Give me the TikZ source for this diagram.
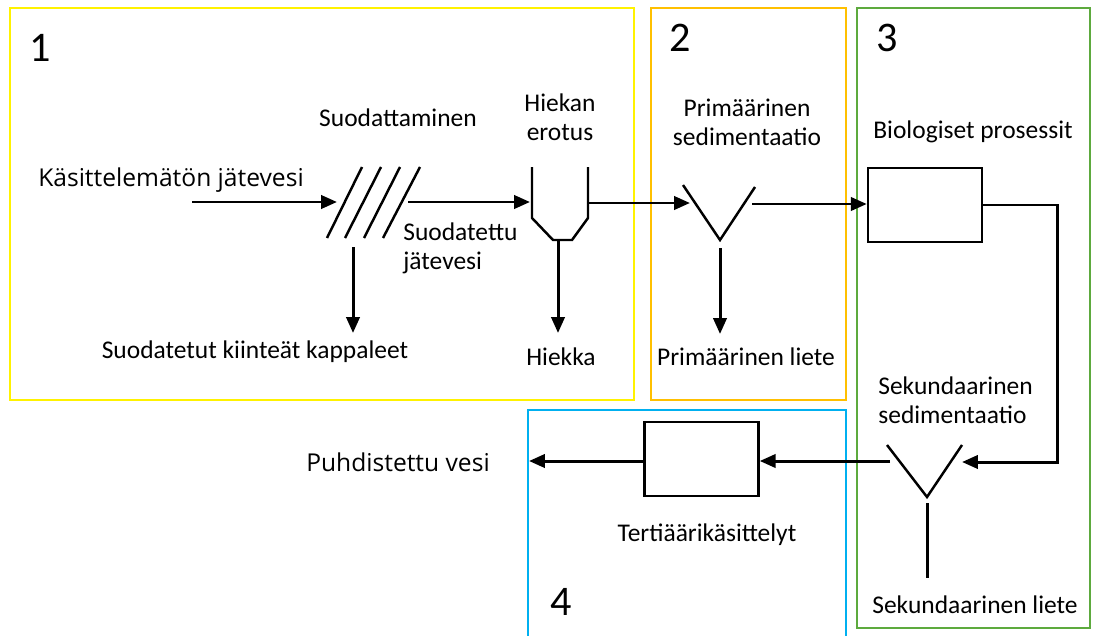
\documentclass[tikz,border=0pt]{standalone}
\usepackage{fontspec}
\setmainfont{Carlito}
\newfontfamily\osans{Open Sans}
\usetikzlibrary{arrows.meta}
\definecolor{cyel}{HTML}{FFF200}
\definecolor{cora}{HTML}{FFC000}
\definecolor{cgre}{HTML}{5DAA3E}
\definecolor{cblu}{HTML}{00B0F0}
\begin{document}
\begin{tikzpicture}[x=0.02cm,y=-0.02cm,
  zone/.style={line width=1.5pt},
  flow/.style={line width=1.7pt,-{Triangle[length=9pt,width=7.5pt]}},
  plain/.style={line width=1.7pt},
  shp/.style={line width=1.4pt},
  lbl/.style={font=\fontsize{14.5pt}{16.5pt}\selectfont,inner sep=0pt},
  big/.style={font=\osans\fontsize{14pt}{16pt}\selectfont,inner sep=0pt},
  num/.style={font=\fontsize{24pt}{26pt}\selectfont,inner sep=0pt},
  proc/.style={draw,shp,minimum width=114*0.02cm,minimum height=74*0.02cm,inner sep=0pt}]
\useasboundingbox (0,0) rectangle (1097,635);
\fill[white] (0,0) rectangle (1097,635);
% zones
\draw[zone,cyel] (10,8) rectangle (634,400);
\draw[zone,cora] (651,8) rectangle (846,400);
\draw[zone,cgre] (857,8) rectangle (1090,628);
\draw[zone,cblu] (528,640) -- (528,410) -- (846,410) -- (846,640);
\node[num] (n1) at (40,48) {1};
\node[num] (n2) at (680,38) {2};
\node[num] (n3) at (887,38) {3};
\node[num] (n4) at (561,602) {4};
% screen
\foreach \a/\b in {327/362,345/381,364/400,383/420}
  \draw[shp] (\a,238) -- (\b,167);
\coordinate (scrin) at (337,202);
\coordinate (scrout) at (408,202);
\coordinate (scrdown) at (353,247);
\coordinate (solids) at (353,333);
\coordinate (src) at (192,202);
% grit chamber
\draw[shp] (532,167) -- (532,218) -- (553,240) -- (572,240) -- (588,218) -- (588,167);
\coordinate (gritin) at (530,202);
\coordinate (gritout) at (588,203);
\coordinate (gritbot) at (558,240);
\coordinate (grit) at (558,333);
% primary V
\draw[shp] (683,185) -- (720,240) -- (755,187);
\coordinate (pvin) at (690,203);
\coordinate (pvout) at (752,204);
\coordinate (pvbot) at (720,248);
\coordinate (psl) at (720,334);
% bio box
\node[proc] (bio) at (925,205) {};
\coordinate (c1) at (1057,205);
\coordinate (c2) at (1057,462);
% secondary V
\draw[shp] (887,445) -- (927,497) -- (962,445);
\coordinate (svin) at (962,462);
\coordinate (svout) at (890,461);
\coordinate (svbot) at (927,503);
\coordinate (ssl) at (927,578);
% tertiary box
\node[proc] (ter) at (701.5,459) {};
\coordinate (out) at (529,461);
% connectors
\draw[flow] (src) -- (scrin);
\draw[flow] (scrout) -- (gritin);
\draw[flow] (scrdown) -- (solids);
\draw[flow] (gritbot) -- (grit);
\draw[flow] (gritout) -- (pvin);
\draw[flow] (pvbot) -- (psl);
\draw[flow] (pvout) -- (bio.west |- pvout);
\draw[flow] (bio.east |- c1) -- (c1) -- (c2) -- (svin);
\draw[plain] (svbot) -- (ssl);
\draw[flow] (svout) -- (ter.east |- svout);
\draw[flow] (ter.west |- out) -- (out);
% labels
\node[big] (t1) at (171,180) {Käsittelemätön jätevesi};
\node[big] (t2) at (398,462) {Puhdistettu vesi};
\node[lbl] (t3) at (398,118) {Suodattaminen};
\node[lbl,align=center] (t4) at (560,117) {Hiekan\\erotus};
\node[lbl,align=left,anchor=west] (t5) at (403,248) {Suodatettu\\jätevesi};
\node[lbl] (t6) at (255,352) {Suodatetut kiinteät kappaleet};
\node[lbl] (t7) at (561,357) {Hiekka};
\node[lbl,align=center] (t8) at (747,122) {Primäärinen\\sedimentaatio};
\node[lbl] (t9) at (746,357) {Primäärinen liete};
\node[lbl] (t10) at (973,132) {Biologiset prosessit};
\node[lbl,align=left,anchor=west] (t11) at (878,400) {Sekundaarinen\\sedimentaatio};
\node[lbl] (t12) at (707,535) {Tertiäärikäsittelyt};
\node[lbl] (t13) at (975,605) {Sekundaarinen liete};
\end{tikzpicture}
\end{document}
